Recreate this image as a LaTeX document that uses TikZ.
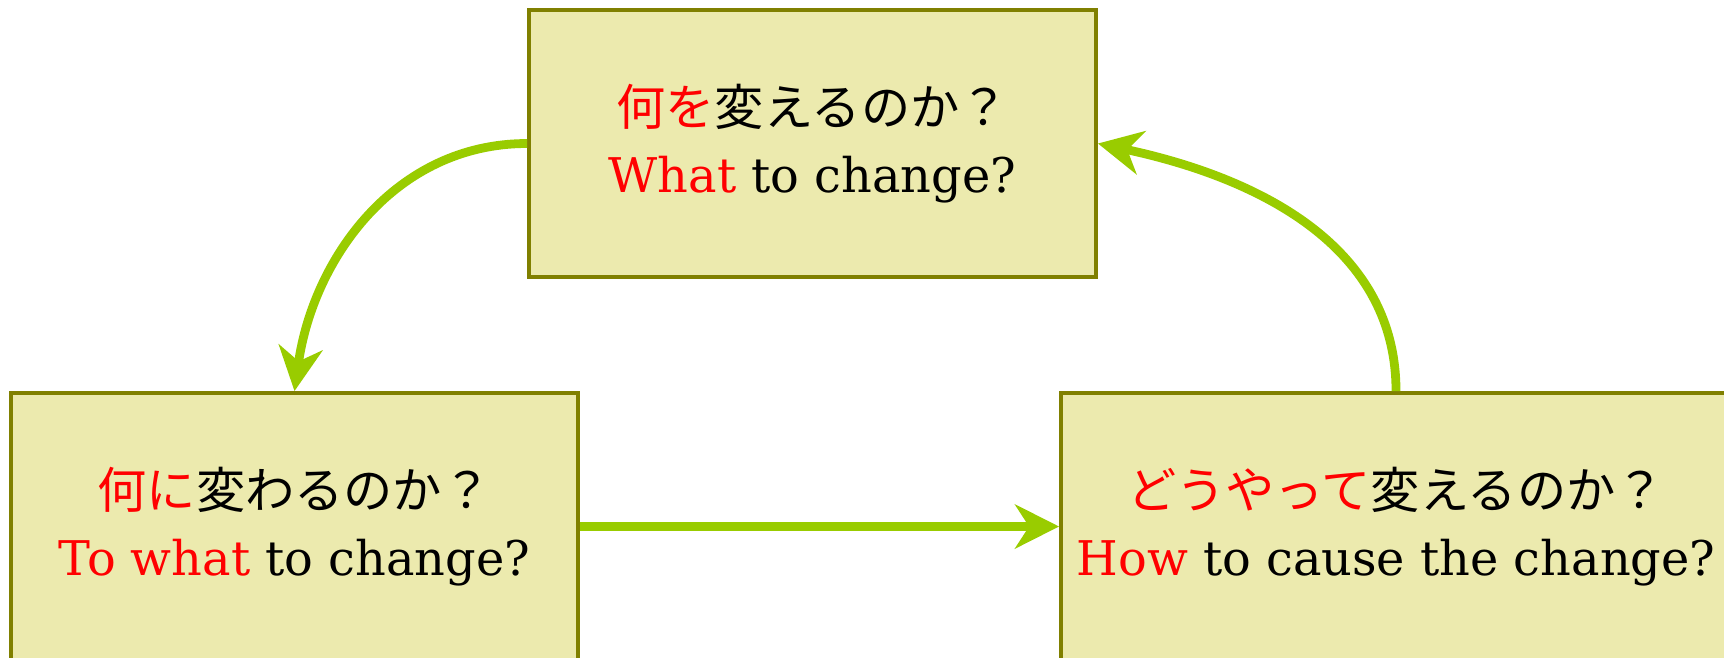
\documentclass[tikz,border=0pt]{standalone}
\usepackage{fontspec}
\setmainfont{DejaVu Serif}
\newfontfamily\jpfont[Scale=1.03]{Noto Sans CJK JP}
\usetikzlibrary{arrows.meta}

\definecolor{boxfill}{RGB}{236,234,174}
\definecolor{boxline}{RGB}{128,128,0}
\definecolor{arrowgreen}{RGB}{153,204,0}

\tikzset{
  qbox/.style={draw=boxline, fill=boxfill, line width=1.1pt, minimum height=2.67cm,
    align=center, inner sep=0pt, font=\fontsize{13.6}{19}\selectfont},
  flow/.style={draw=arrowgreen, line width=2.5pt,
    -{Stealth[length=4.4mm, width=4.4mm, inset=1.4mm]}},
}

\begin{document}
\begin{tikzpicture}

    \useasboundingbox (0,0) rectangle (17.24,-6.57);

    \node[qbox, minimum width=5.67cm] (what) at (8.125,-1.435)
        {{\jpfont\textcolor{red}{何を}変えるのか？}\\\textcolor{red}{What} to change?};
    \node[qbox, minimum width=5.67cm] (towhat) at (2.945,-5.265)
        {{\jpfont\textcolor{red}{何に}変わるのか？}\\\textcolor{red}{To what} to change?};
    \node[qbox, minimum width=6.70cm] (how) at (13.96,-5.265)
        {{\jpfont\textcolor{red}{どうやって}変えるのか？}\\\textcolor{red}{How} to cause the change?};

    \draw[flow] (what.west) to[out=180, in=82] (towhat.north);
    \draw[flow] (towhat.east) -- (how.west);
    \draw[flow] (how.north) to[out=90, in=-12] (what.east);

\end{tikzpicture}
\end{document}
